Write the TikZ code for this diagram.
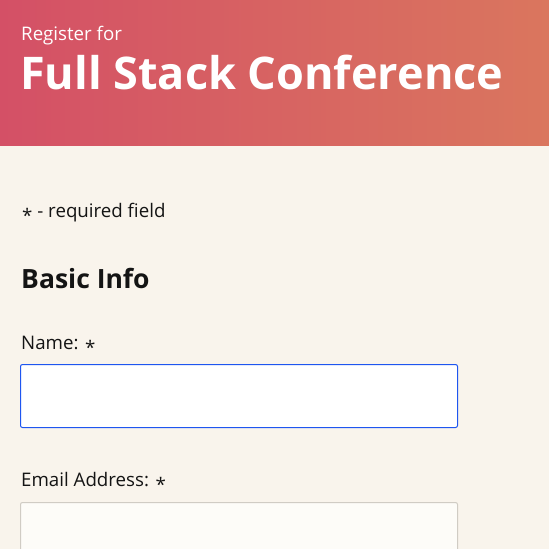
\documentclass[tikz,border=0pt]{standalone}
\usepackage{fontspec}
\setmainfont{Open Sans}
\definecolor{bgc}{RGB}{249,244,236}
\definecolor{hleft}{RGB}{212,80,102}
\definecolor{hright}{RGB}{218,118,94}
\definecolor{focusblue}{RGB}{30,86,240}
\definecolor{graybord}{RGB}{208,204,196}
\definecolor{fieldfill}{RGB}{253,252,248}
\definecolor{txt}{RGB}{20,20,20}
\newcommand{\reqmark}{\raisebox{-0.55ex}{*}}
\begin{document}
\begin{tikzpicture}[x=1pt,y=-1pt,
  lbl/.style={anchor=base west,inner sep=0pt,text=txt,font=\fontsize{18.7}{20}\selectfont},
  field/.style={rounded corners=2pt,line width=1pt}]
\useasboundingbox (0,0) rectangle (549,549);
\fill[bgc] (0,0) rectangle (549,549);
\shade[left color=hleft,right color=hright] (0,0) rectangle (549,145);
\node[anchor=base west,inner sep=0pt,text=white,font=\fontsize{18.7}{20}\selectfont] (reg) at (21,40) {Register for};
\node[anchor=base west,inner sep=0pt,text=white,font=\fontsize{45}{52}\selectfont\bfseries] (title) at (20,89) {Full Stack Conference};
\node[lbl] (req) at (22,217) {\reqmark\ - required field};
\node[lbl,font=\fontsize{26.5}{32}\selectfont\bfseries] (basic) at (21,288) {Basic Info};
\node[lbl] (name) at (21,349) {Name: \reqmark};
\draw[field,draw=focusblue,fill=white] (20.5,364.5) rectangle (457.5,427.5);
\node[lbl] (email) at (21,486) {Email Address: \reqmark};
\draw[field,draw=graybord,fill=fieldfill] (20.5,502.5) rectangle (457.5,560);
\end{tikzpicture}
\end{document}
